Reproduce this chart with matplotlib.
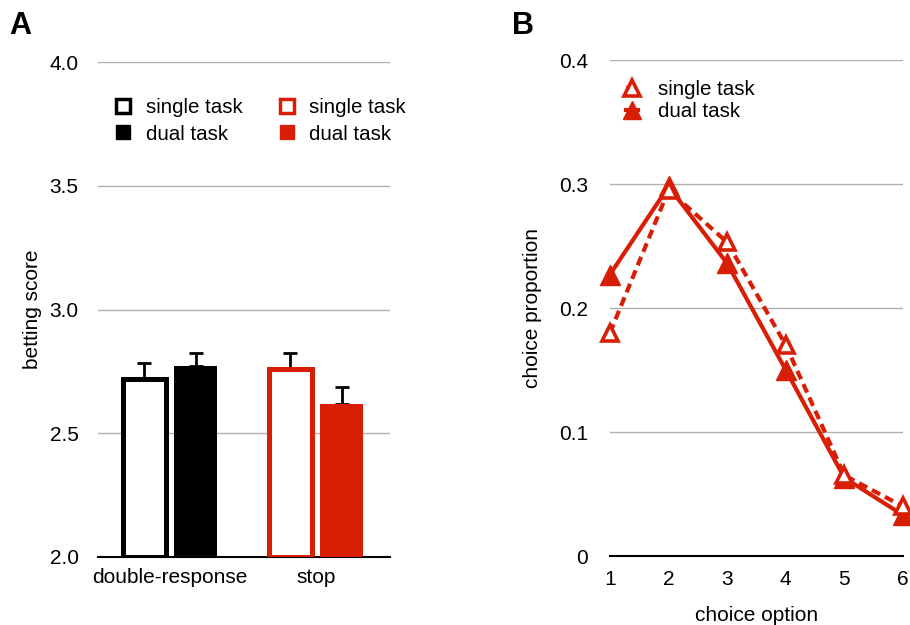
import numpy as np
import matplotlib.pyplot as plt
from matplotlib.lines import Line2D

plt.rcParams['font.family'] = ['Liberation Sans', 'DejaVu Sans']

# panel A data
groups = ["double-response", "stop"]
single_mean = [2.72, 2.76]
single_err = [0.065, 0.065]
dual_mean = [2.77, 2.62]
dual_err = [0.055, 0.065]
group_colors = ["black", "#d81e05"]

# panel B data
options = [1, 2, 3, 4, 5, 6]
prop_single = [0.180, 0.295, 0.253, 0.170, 0.065, 0.040]
prop_dual = [0.227, 0.298, 0.236, 0.150, 0.063, 0.033]

red = "#d81e05"
fs = 15
lfs = 14.8

fig = plt.figure(figsize=(9.1, 6.25), dpi=100)

# ---------- panel A ----------
ax1 = fig.add_axes([0.1077, 0.1088, 0.3209, 0.792])
x = np.arange(len(groups))
off = 0.175
w = 0.29
for i in range(len(groups)):
    c = group_colors[i]
    ax1.bar(x[i] - off, single_mean[i] - 2.0, w, bottom=2.0, facecolor="white",
            edgecolor=c, linewidth=3.6, zorder=3)
    ax1.bar(x[i] + off, dual_mean[i] - 2.0, w, bottom=2.0, facecolor=c,
            edgecolor=c, linewidth=0, zorder=3)
    ax1.errorbar(x[i] - off, single_mean[i], yerr=[[0], [single_err[i]]], fmt="none",
                 ecolor="black", elinewidth=2, capsize=5, capthick=2, zorder=2)
    ax1.errorbar(x[i] + off, dual_mean[i], yerr=[[0], [dual_err[i]]], fmt="none",
                 ecolor="black", elinewidth=2, capsize=5, capthick=2, zorder=2)

ax1.set_xlim(-0.493, 1.507)
ax1.set_ylim(2.0, 4.0)
ax1.set_yticks([2.0, 2.5, 3.0, 3.5, 4.0])
ax1.set_yticklabels(["2.0", "2.5", "3.0", "3.5", "4.0"])
ax1.set_xticks(x)
ax1.set_xticklabels(groups)
ax1.set_ylabel("betting score", fontsize=fs, labelpad=5)
ax1.yaxis.grid(True, color="#b0b0b0", linewidth=1)
ax1.set_axisbelow(True)
for s in ["top", "right", "left"]:
    ax1.spines[s].set_visible(False)
ax1.spines["bottom"].set_linewidth(1.5)
ax1.tick_params(axis="both", length=0, labelsize=fs)
ax1.tick_params(axis="y", pad=14)
ax1.tick_params(axis="x", pad=8)

h_a = [
    Line2D([], [], ls="none", marker="s", ms=10, mfc="white", mec="black", mew=2.5),
    Line2D([], [], ls="none", marker="s", ms=10, mfc="black", mec="black"),
    Line2D([], [], ls="none", marker="s", ms=10, mfc="white", mec=red, mew=2.5),
    Line2D([], [], ls="none", marker="s", ms=10, mfc=red, mec=red),
]
ax1.legend(h_a, ["single task", "dual task", "single task", "dual task"], ncol=2,
           frameon=False, fontsize=lfs, loc="upper left", bbox_to_anchor=(-0.02, 0.964),
           handletextpad=0.5, columnspacing=1.55, labelspacing=0.35, handlelength=1.2)

fig.text(0.010, 0.945, "A", fontsize=22, fontweight="bold")

# ---------- panel B ----------
ax2 = fig.add_axes([0.6703, 0.1104, 0.322, 0.7936])
ax2.plot(options, prop_dual, color=red, lw=3, marker="^", ms=14, mfc=red, mec=red,
         zorder=3, clip_on=False, label="dual task")
ax2.plot(options, prop_single, color=red, lw=3, ls=(0, (2.2, 1.3)), marker="^", ms=11,
         mfc="white", mec=red, mew=2.6, zorder=4, clip_on=False, label="single task")
ax2.set_xlim(1, 6)
ax2.set_ylim(0, 0.4)
ax2.set_xticks(options)
ax2.set_yticks([0, 0.1, 0.2, 0.3, 0.4])
ax2.set_yticklabels(["0", "0.1", "0.2", "0.3", "0.4"])
ax2.set_xlabel("choice option", fontsize=fs, labelpad=12)
ax2.set_ylabel("choice proportion", fontsize=fs, labelpad=12)
ax2.yaxis.grid(True, color="#b0b0b0", linewidth=1)
ax2.set_axisbelow(True)
for s in ["top", "right", "left"]:
    ax2.spines[s].set_visible(False)
ax2.spines["bottom"].set_linewidth(1.5)
ax2.tick_params(axis="both", length=0, labelsize=fs)
ax2.tick_params(axis="y", pad=16)
ax2.tick_params(axis="x", pad=10)

h_b = [
    Line2D([], [], color=red, lw=3, ls=(0, (2.2, 1.3)), marker="^", ms=11, mfc="white",
           mec=red, mew=2.6),
    Line2D([], [], color=red, lw=3, marker="^", ms=13, mfc=red, mec=red),
]
ax2.legend(h_b, ["single task", "dual task"], frameon=False, fontsize=lfs,
           loc="upper left", bbox_to_anchor=(-0.01, 0.997), handlelength=0.6,
           handletextpad=1.0, labelspacing=0.15)

fig.text(0.563, 0.945, "B", fontsize=22, fontweight="bold")

fig.savefig("out.png", dpi=100)
